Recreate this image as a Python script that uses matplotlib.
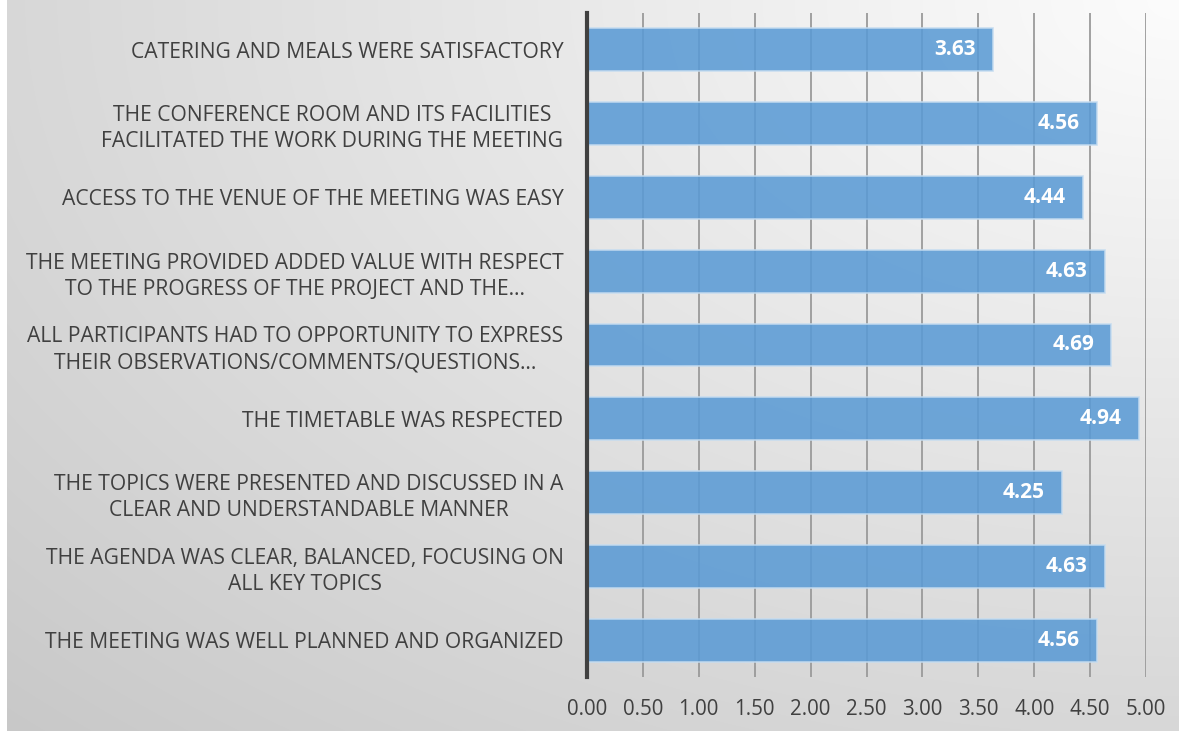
import numpy as np
import matplotlib
matplotlib.use('Agg')
import matplotlib.pyplot as plt

# Datos del gráfico (de abajo hacia arriba)
categories = [
    "THE MEETING WAS WELL PLANNED AND ORGANIZED",
    "THE AGENDA WAS CLEAR, BALANCED, FOCUSING ON\nALL KEY TOPICS",
    "THE TOPICS WERE PRESENTED AND DISCUSSED IN A\nCLEAR AND UNDERSTANDABLE MANNER",
    "THE TIMETABLE WAS RESPECTED",
    "ALL PARTICIPANTS HAD TO OPPORTUNITY TO EXPRESS\nTHEIR OBSERVATIONS/COMMENTS/QUESTIONS…",
    "THE MEETING PROVIDED ADDED VALUE WITH RESPECT\nTO THE PROGRESS OF THE PROJECT AND THE…",
    "ACCESS TO THE VENUE OF THE MEETING WAS EASY",
    "THE CONFERENCE ROOM AND ITS FACILITIES\nFACILITATED THE WORK DURING THE MEETING",
    "CATERING AND MEALS WERE SATISFACTORY",
]
scores = [4.56, 4.63, 4.25, 4.94, 4.69, 4.63, 4.44, 4.56, 3.63]
x_ticks = [0.0, 0.5, 1.0, 1.5, 2.0, 2.5, 3.0, 3.5, 4.0, 4.5, 5.0]

plt.rcParams['font.family'] = ['Open Sans', 'DejaVu Sans']

W, H = 1179, 731
fig = plt.figure(figsize=(W / 100, H / 100), dpi=100)

# Fondo con degradado (claro arriba a la derecha, gris abajo a la izquierda)
yy, xx = np.mgrid[0:H, 0:W]
d = np.sqrt(((W - xx) / W) ** 2 + (yy / H) ** 2) / np.sqrt(2)
shade = (252 - 52 * d) / 255.0
bg = np.dstack([shade, shade, shade])
bg[:, :7, :] = 1.0
bg_ax = fig.add_axes([0, 0, 1, 1], zorder=-10)
bg_ax.imshow(bg, aspect='auto', extent=[0, 1, 0, 1], origin='upper')
bg_ax.axis('off')

ax = fig.add_axes([587 / W, 1 - 677 / H, (1146 - 587) / W, (677 - 13) / H])
ax.patch.set_alpha(0)

y = np.arange(len(categories))
ax.barh(y, scores, height=0.58, color='#5b9bd5', alpha=0.88,
        edgecolor='#c5dcf0', linewidth=1.2, zorder=3)

for i, v in enumerate(scores):
    ax.text(v - 0.155, i, f"{v:.2f}", ha='right', va='center', color='white',
            fontsize=15, fontweight='bold', zorder=4)

ax.set_xlim(0, 5)
ax.set_ylim(-0.5, len(categories) - 0.5)
ax.set_xticks(x_ticks)
ax.set_xticklabels([f"{t:.2f}" for t in x_ticks], fontsize=14.8, color='#404040')
ax.set_yticks(y)
ax.set_yticklabels(categories, fontsize=15.2, color='#404040',
                   multialignment='center', linespacing=1.3)
ax.tick_params(axis='y', length=0, pad=17)
ax.tick_params(axis='x', length=0, pad=16)

ax.grid(axis='x', color='#9a9a9a', linewidth=1.3, zorder=0)
for s in ['top', 'right', 'bottom']:
    ax.spines[s].set_visible(False)
ax.spines['left'].set_color('#404040')
ax.spines['left'].set_linewidth(3)
ax.spines['left'].set_zorder(5)

fig.savefig('out.png', dpi=100)
